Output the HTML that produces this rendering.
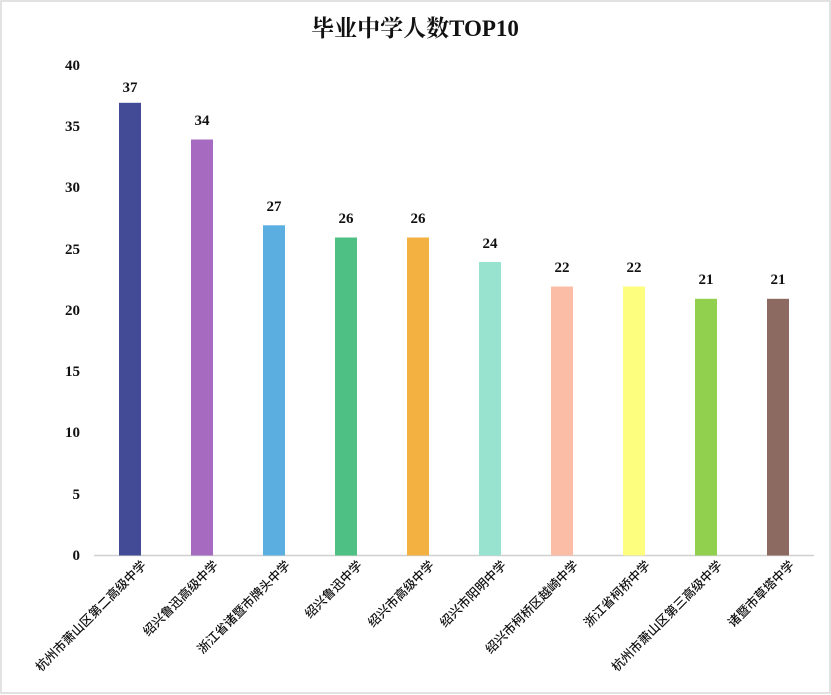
<!DOCTYPE html>
<html><head><meta charset="utf-8"><style>
html,body{margin:0;padding:0;background:#fff}
svg{display:block}
</style></head><body>
<svg width="831" height="695" xmlns="http://www.w3.org/2000/svg">
<rect x="1" y="1" width="829" height="692" fill="#fff" stroke="#d9d9d9" stroke-width="1.5"/>
<text x="415" y="36" text-anchor="middle" font-family="Liberation Serif, Noto Serif CJK SC, serif" font-size="23" font-weight="bold" fill="#111">毕业中学人数TOP10</text>
<g font-family="Liberation Serif, serif" font-weight="bold" font-size="15" fill="#111" text-anchor="end">
<text x="80" y="560">0</text><text x="80" y="499">5</text><text x="80" y="437">10</text><text x="80" y="376">15</text><text x="80" y="315">20</text><text x="80" y="254">25</text><text x="80" y="192">30</text><text x="80" y="131">35</text><text x="80" y="70">40</text>
</g>
<line x1="94" y1="555.5" x2="814" y2="555.5" stroke="#d0d0d0" stroke-width="1.5"/>
<g>
<rect x="119" y="102.8" width="22" height="452.7" fill="#434b96"/>
<rect x="191" y="139.5" width="22" height="416" fill="#a66bc0"/>
<rect x="263" y="225.3" width="22" height="330.2" fill="#5aaee0"/>
<rect x="335" y="237.5" width="22" height="318" fill="#4fc083"/>
<rect x="407" y="237.5" width="22" height="318" fill="#f3b142"/>
<rect x="479" y="262" width="22" height="293.5" fill="#98e2d0"/>
<rect x="551" y="286.5" width="22" height="269" fill="#fbbda5"/>
<rect x="623" y="286.5" width="22" height="269" fill="#fdfd7e"/>
<rect x="695" y="298.8" width="22" height="256.7" fill="#91d04e"/>
<rect x="767" y="298.8" width="22" height="256.7" fill="#8c6a62"/>
</g>
<g font-family="Liberation Serif, serif" font-weight="bold" font-size="15" fill="#111" text-anchor="middle">
<text x="130" y="92">37</text><text x="202" y="125">34</text><text x="274" y="211">27</text><text x="346" y="223">26</text><text x="418" y="223">26</text><text x="490" y="248">24</text><text x="562" y="272">22</text><text x="634" y="272">22</text><text x="706" y="284">21</text><text x="778" y="284">21</text>
</g>
<g font-family="Liberation Sans, Noto Sans CJK SC, sans-serif" font-size="12.5" font-weight="500" fill="#111" text-anchor="end">
<text transform="translate(147,566) rotate(-45)">杭州市萧山区第二高级中学</text>
<text transform="translate(219,566) rotate(-45)">绍兴鲁迅高级中学</text>
<text transform="translate(291,566) rotate(-45)">浙江省诸暨市牌头中学</text>
<text transform="translate(363,566) rotate(-45)">绍兴鲁迅中学</text>
<text transform="translate(435,566) rotate(-45)">绍兴市高级中学</text>
<text transform="translate(507,566) rotate(-45)">绍兴市阳明中学</text>
<text transform="translate(579,566) rotate(-45)">绍兴市柯桥区越崎中学</text>
<text transform="translate(651,566) rotate(-45)">浙江省柯桥中学</text>
<text transform="translate(723,566) rotate(-45)">杭州市萧山区第三高级中学</text>
<text transform="translate(795,566) rotate(-45)">诸暨市草塔中学</text>
</g>
</svg>
</body></html>
